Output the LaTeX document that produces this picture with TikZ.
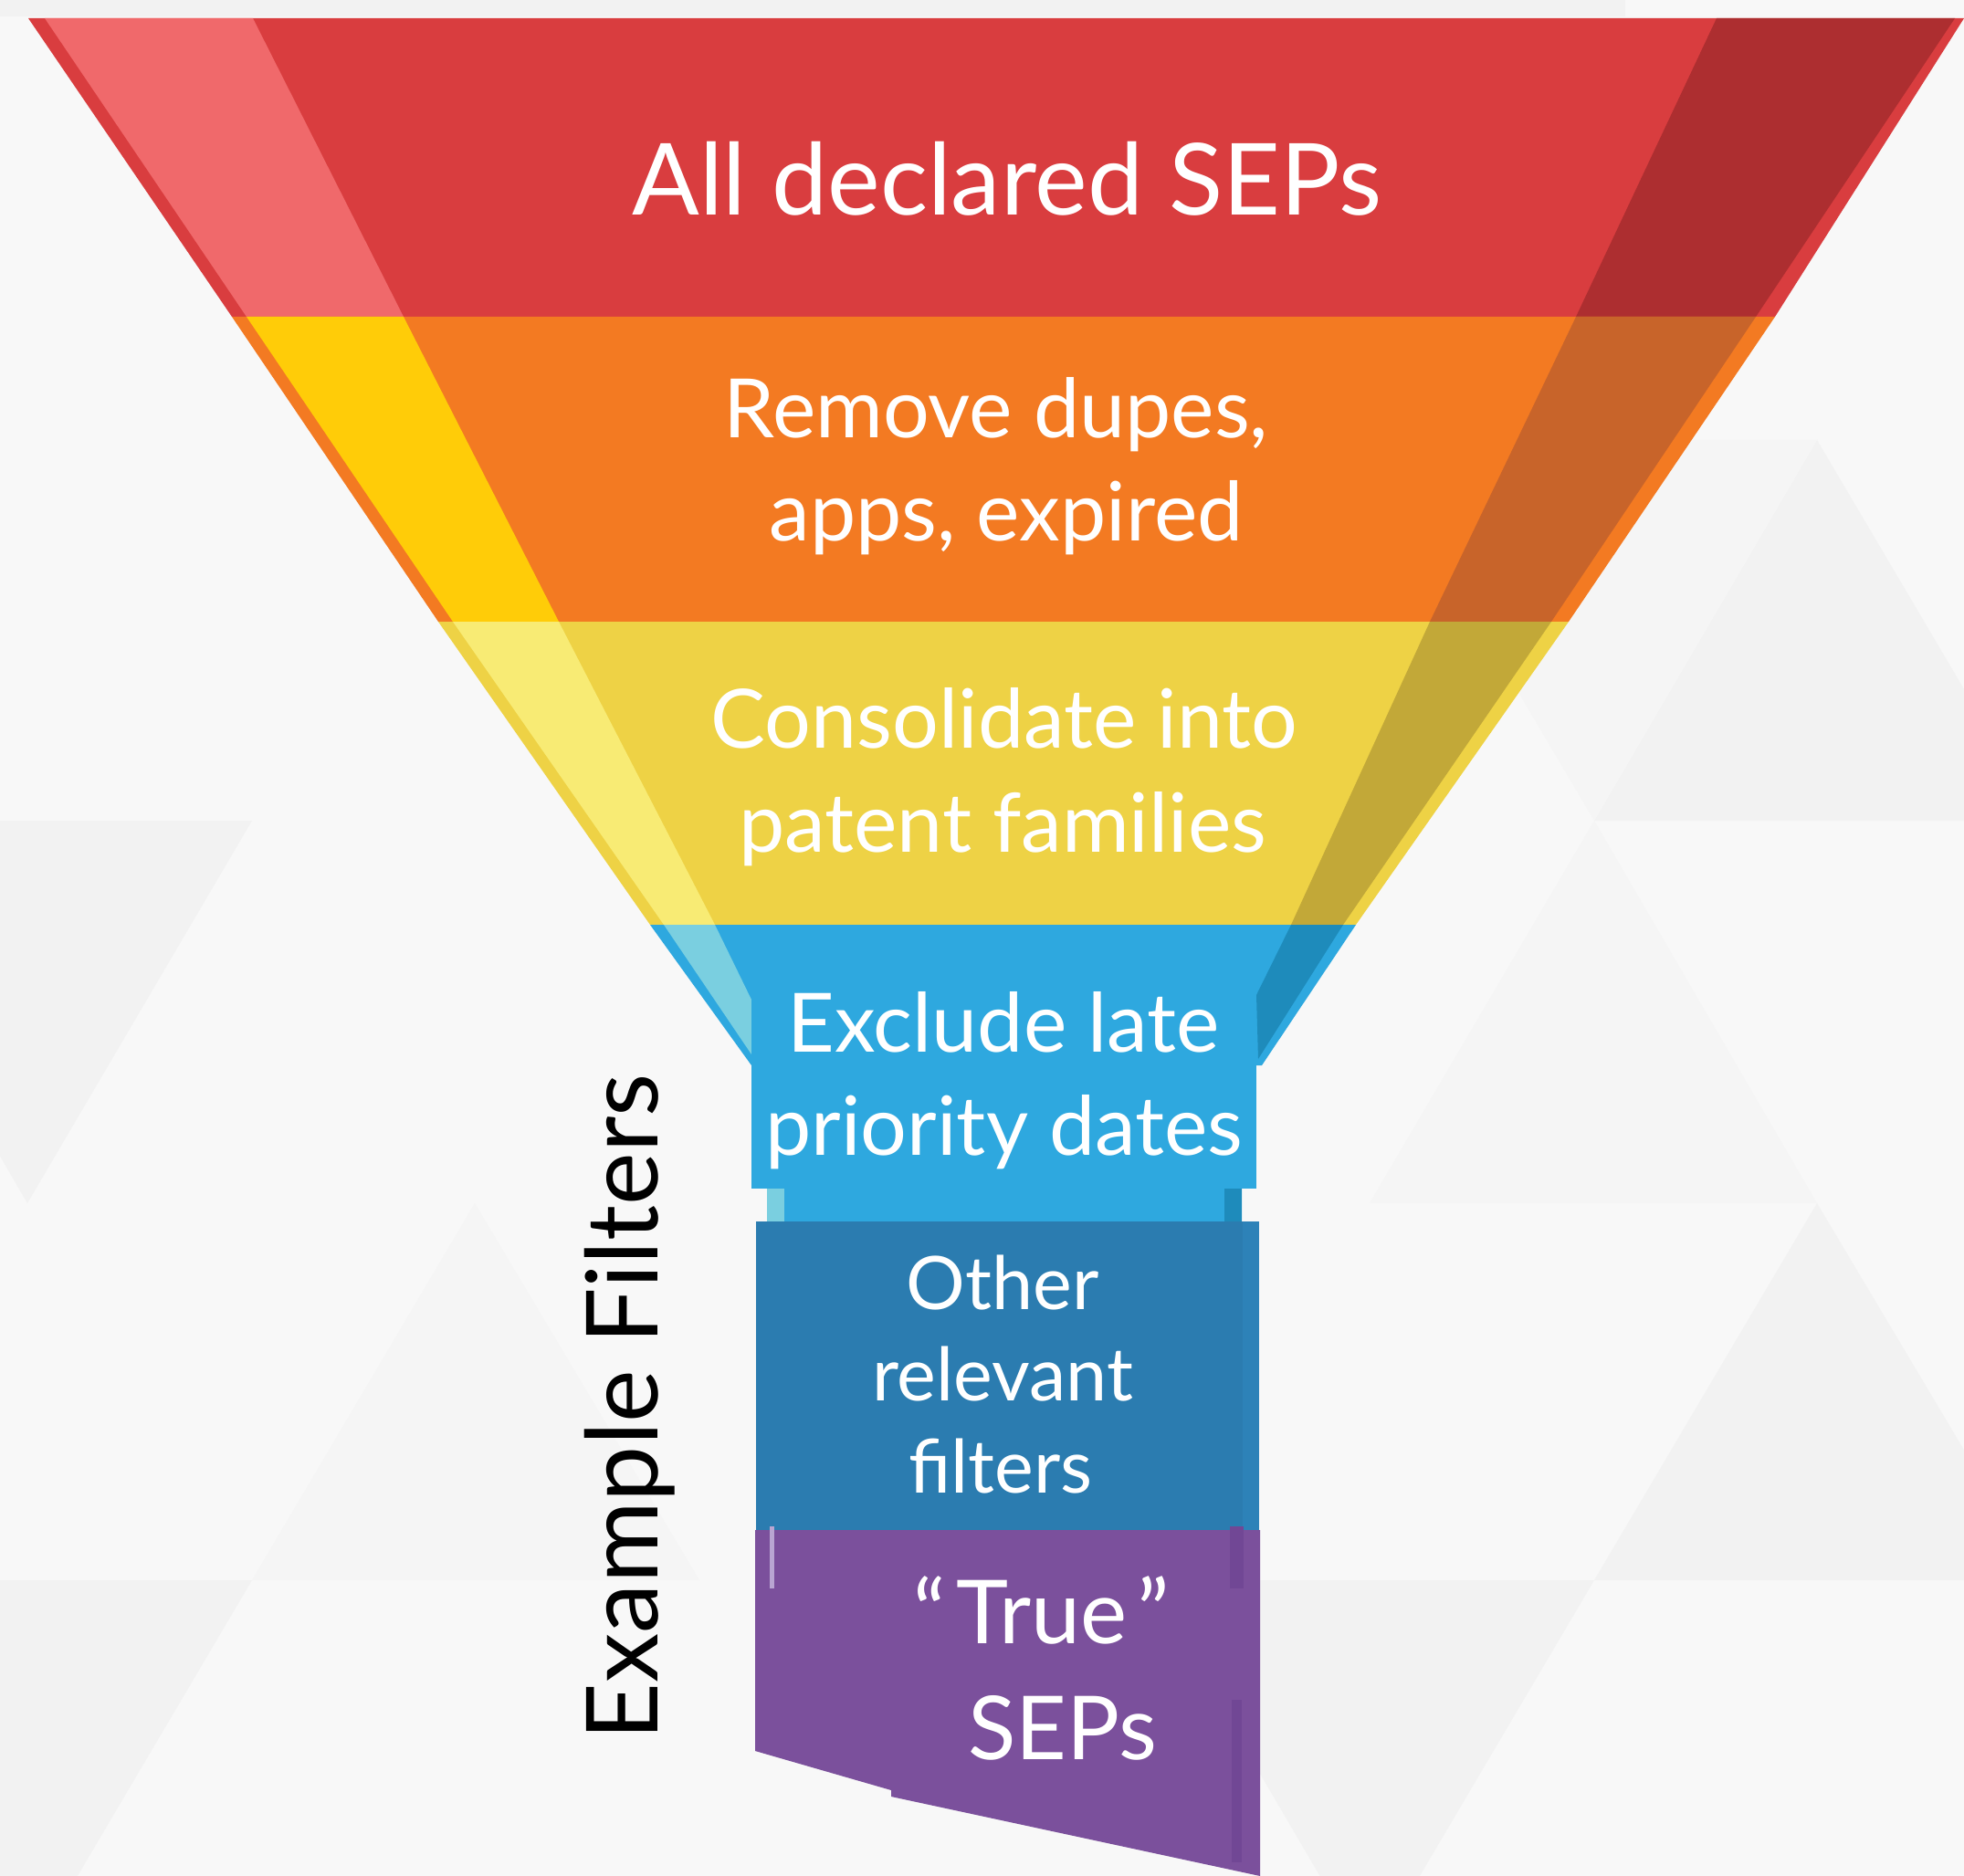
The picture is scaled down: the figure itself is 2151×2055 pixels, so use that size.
\documentclass[tikz,border=0pt]{standalone}
\usepackage{fontspec}
\setmainfont{Lato}
\definecolor{bgcol}{HTML}{F8F8F8}
\definecolor{bgdark}{HTML}{F2F2F2}
\definecolor{bgmid}{HTML}{F5F5F5}
\definecolor{redbase}{HTML}{D93D3F}
\definecolor{redlight}{HTML}{F0696B}
\definecolor{reddark}{HTML}{AD2E30}
\definecolor{orangebase}{HTML}{F37A22}
\definecolor{orangelight}{HTML}{FFCC08}
\definecolor{orangedark}{HTML}{C8642A}
\definecolor{yellowbase}{HTML}{EED245}
\definecolor{yellowlight}{HTML}{F8EB74}
\definecolor{yellowdark}{HTML}{C2A838}
\definecolor{bluebase}{HTML}{2EA8DF}
\definecolor{bluelight}{HTML}{7ACFE0}
\definecolor{bluedark}{HTML}{1E8BBB}
\definecolor{navybase}{HTML}{2B7CB0}
\definecolor{navyedge}{HTML}{2D82B8}
\definecolor{purplebase}{HTML}{7B509C}
\definecolor{purpledark}{HTML}{714795}
\definecolor{purplelight}{HTML}{B9A5D2}
\tikzset{
  lbl/.style={text=white,inner sep=0pt,anchor=base},
  bigtext/.style={font=\fontsize{31}{37}\selectfont},
  midtext/.style={font=\fontsize{25.5}{31}\selectfont},
  smalltext/.style={font=\fontsize{23}{28}\selectfont},
  truetext/.style={font=\fontsize{27.5}{33}\selectfont}
}
\begin{document}
\begin{tikzpicture}[x=0.01cm,y=-0.01cm]
  \useasboundingbox (0,0) rectangle (2151,2055);
  % background with faint triangles
  \fill[bgcol] (0,0) rectangle (2151,2055);
  \begin{scope}
    \clip (0,0) rectangle (2151,2055);
    \fill[bgdark] (-214,899) -- (276,899) -- (30,1318) -- cycle;
    \fill[bgmid] (520,1318) -- (276,1731) -- (766,1731) -- cycle;
    \fill[bgdark] (-214,1731) -- (276,1731) -- (30,2148) -- cycle;
    \fill[bgdark] (1990,482) -- (1746,899) -- (2236,899) -- cycle;
    \fill[bgmid] (1500,482) -- (1746,899) -- (1990,482) -- cycle;
    \fill[bgdark] (1990,1318) -- (1746,1731) -- (2236,1731) -- cycle;
    \fill[bgmid] (1746,899) -- (1500,1318) -- (1990,1318) -- cycle;
    \fill[bgdark] (1256,1731) -- (1746,1731) -- (1500,2148) -- cycle;
    \fill[bgdark] (0,0) rectangle (1780,18);
  \end{scope}
  % red band
  \fill[redbase] (31,20) -- (2151,20) -- (1944,347) -- (254,347) -- cycle;
  \fill[redlight] (49,20) -- (277,20) -- (442,347) -- (270,347) -- cycle;
  \fill[reddark] (1880,20) -- (2141,20) -- (1923,347) -- (1726,347) -- cycle;
  % orange band
  \fill[orangebase] (254,347) -- (1944,347) -- (1718,681) -- (480,681) -- cycle;
  \fill[orangelight] (270,347) -- (442,347) -- (612,681) -- (496,681) -- cycle;
  \fill[orangedark] (1726,347) -- (1923,347) -- (1699,681) -- (1566,681) -- cycle;
  % yellow band
  \fill[yellowbase] (480,681) -- (1718,681) -- (1485,1013) -- (712,1013) -- cycle;
  \fill[yellowlight] (496,681) -- (612,681) -- (783,1013) -- (727,1013) -- cycle;
  \fill[yellowdark] (1566,681) -- (1699,681) -- (1471,1013) -- (1414,1013) -- cycle;
  % blue band and neck
  \fill[bluebase] (712,1013) -- (1485,1013) -- (1382,1167) -- (1360,1167) -- (1360,1338)
    -- (840,1338) -- (840,1167) -- (823,1167) -- cycle;
  \fill[bluelight] (727,1013) -- (783,1013) -- (823,1095) -- (823,1155) -- cycle;
  \fill[bluedark] (1414,1013) -- (1471,1013) -- (1378,1160) -- (1376,1090) -- cycle;
  \fill[bluelight] (840,1302) rectangle (859,1338);
  \fill[bluedark] (1341,1302) rectangle (1360,1338);
  \fill[bluebase] (823,1087) rectangle (1376,1302);
  % dark blue box
  \fill[navybase] (828,1338) rectangle (1361,1676);
  \fill[navyedge] (1361,1338) rectangle (1379,1676);
  % purple end
  \fill[purplebase] (827,1676) -- (1380,1676) -- (1380,2055) -- (976,1968) -- (976,1961)
    -- (827,1918) -- cycle;
  \fill[purplelight] (843,1672) rectangle (848,1740);
  \fill[purpledark] (1347,1672) rectangle (1362,1740);
  \fill[purpledark] (1349,1862) rectangle (1360,2040);
  % labels
  \node[lbl,bigtext] (all) at (1103,236) {All declared SEPs};
  \node[lbl,midtext] (dupesA) at (1091,480) {Remove dupes,};
  \node[lbl,midtext] (dupesB) at (1102,593) {apps, expired};
  \node[lbl,midtext] (famA) at (1100,819) {Consolidate into};
  \node[lbl,midtext] (famB) at (1098,933) {patent families};
  \node[lbl,midtext] (lateA) at (1099,1152) {Exclude late};
  \node[lbl,midtext] (lateB) at (1100,1265) {priority dates};
  \node[lbl,smalltext] (otherA) at (1098,1434) {Other};
  \node[lbl,smalltext] (otherB) at (1098,1534) {relevant};
  \node[lbl,smalltext] (otherC) at (1096,1635) {filters};
  \node[lbl,truetext] (trueA) at (1141,1800) {“\kern0.12em True\kern0.12em”};
  \node[lbl,truetext] (trueB) at (1164,1927) {SEPs};
  \node[inner sep=0pt,anchor=base west,rotate=90,font=\fontsize{31}{37}\selectfont]
    (example) at (720,1907) {Example Filters};
\end{tikzpicture}
\end{document}
